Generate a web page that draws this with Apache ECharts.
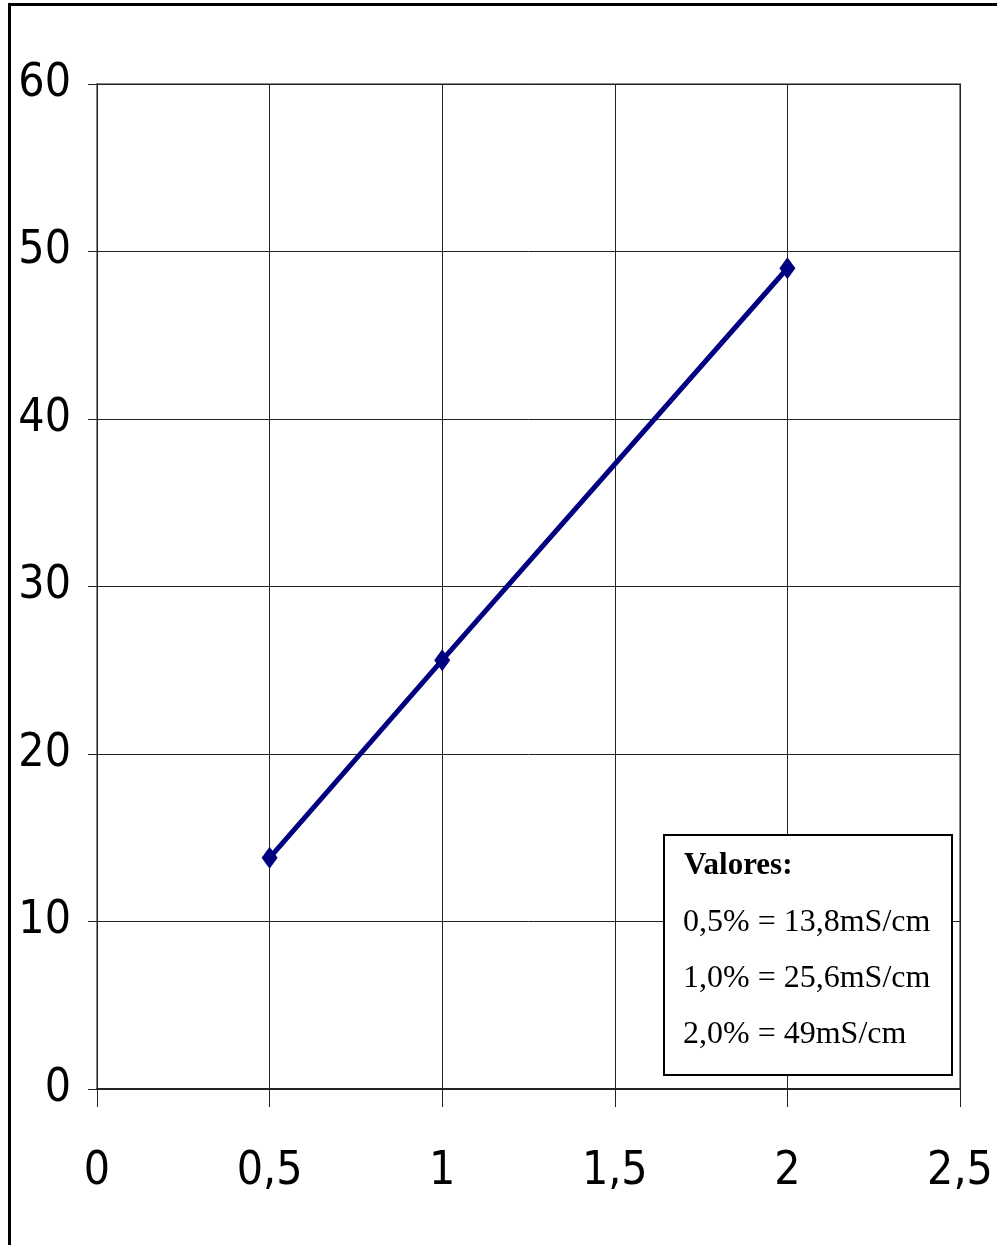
<!DOCTYPE html>
<html><head><meta charset="utf-8">
<script src="https://cdn.jsdelivr.net/npm/echarts@6/dist/echarts.min.js"></script>
<style>html,body{margin:0;padding:0;background:#fff}#c{width:997px;height:1245px}</style>
</head><body><div id="c"></div>
<script>
const concentrations = [0.5, 1, 2];
const conductivity = [13.8, 25.6, 49];
const legendTitle = 'Valores:';
const legendLines = ['0,5% = 13,8mS/cm', '1,0% = 25,6mS/cm', '2,0% = 49mS/cm'];
const axisFont = '"DejaVu Sans", sans-serif';
const serif = '"Liberation Serif", "Times New Roman", serif';

const chart = echarts.init(document.getElementById('c'), null, {renderer: 'canvas'});
chart.setOption({
  animation: false,
  backgroundColor: '#fff',
  grid: {left: 97, top: 84, right: 37, bottom: 156, show: true, borderColor: '#888', borderWidth: 2, backgroundColor: 'transparent'},
  xAxis: {
    type: 'value', min: 0, max: 2.5, interval: 0.5,
    axisLine: {show: true, onZero: true, lineStyle: {color: '#222', width: 2}},
    axisTick: {show: true, length: 18, lineStyle: {color: '#222', width: 1}},
    axisLabel: {margin: 60, fontFamily: axisFont, fontWeight: 'ultra-condensed', fontSize: 46, color: '#000',
      formatter: v => String(v).replace('.', ','), showMinLabel: true, showMaxLabel: true},
    splitLine: {show: true, lineStyle: {color: '#222', width: 1}}
  },
  yAxis: {
    type: 'value', min: 0, max: 60, interval: 10,
    axisLine: {show: true, lineStyle: {color: '#222', width: 1}},
    axisTick: {show: true, length: 9, lineStyle: {color: '#222', width: 1}},
    axisLabel: {margin: 26, fontFamily: axisFont, fontWeight: 'ultra-condensed', fontSize: 46, color: '#000', padding: [6, 0, 0, 0]},
    splitLine: {show: true, lineStyle: {color: '#222', width: 1}}
  },
  series: [{
    type: 'line',
    data: concentrations.map((x, i) => [x, conductivity[i]]),
    symbol: 'diamond', symbolSize: [16, 22],
    lineStyle: {color: '#000080', width: 5},
    itemStyle: {color: '#000080'},
    z: 5
  }],
  graphic: [
    {type: 'rect', shape: {x: 9.5, y: 4.5, width: 1100, height: 1400}, style: {fill: 'none', stroke: '#000', lineWidth: 3}, z: 100},
    {type: 'rect', shape: {x: 664, y: 835, width: 288, height: 240}, style: {fill: '#fff', stroke: '#000', lineWidth: 2}, z: 50},
    {type: 'text', x: 684, y: 866, style: {text: legendTitle, font: 'bold 31px ' + serif, fill: '#000', textVerticalAlign: 'middle'}, z: 51},
    ...legendLines.map((t, i) => ({type: 'text', x: 683, y: 923 + i * 56, style: {text: t, font: '32px ' + serif, fill: '#000', textVerticalAlign: 'middle'}, z: 51}))
  ]
});
</script></body></html>
